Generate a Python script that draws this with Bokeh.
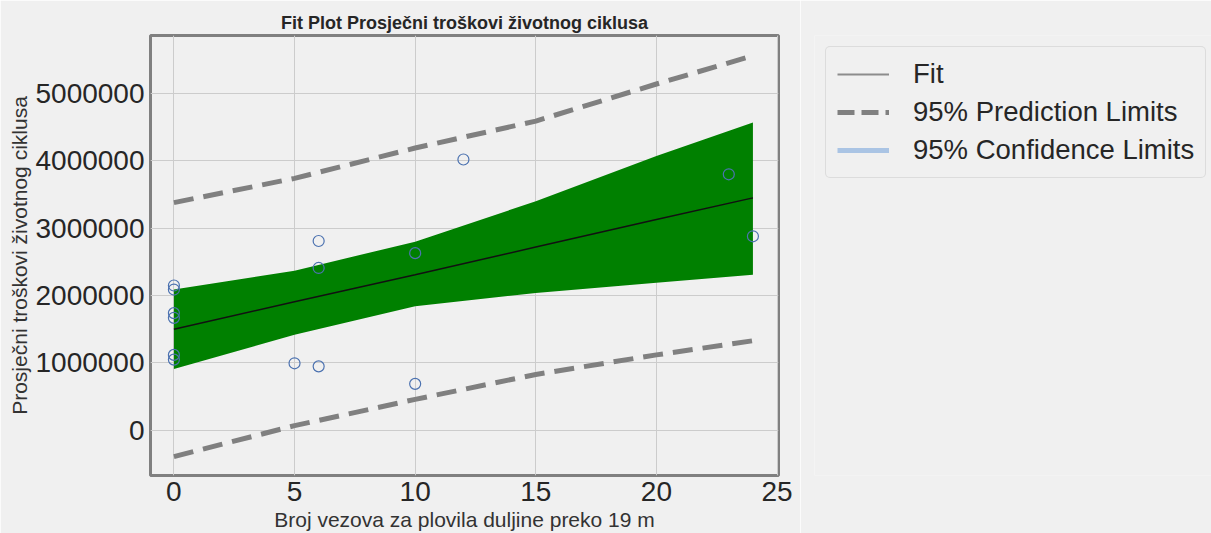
from bokeh.plotting import figure
from bokeh.layouts import row
from bokeh.models import (Range1d, FixedTicker, Legend, LegendItem,
                          NumeralTickFormatter, ColumnDataSource)
from bokeh.embed import file_html
from bokeh.resources import INLINE

# observations
x_obs = [0, 0, 0, 0, 0, 0, 5, 6, 6, 6, 10, 10, 12, 23, 24]
y_obs = [2150000, 2090000, 1740000, 1670000, 1120000, 1050000, 995000,
         2810000, 2410000, 950000, 2630000, 690000, 4020000, 3800000, 2880000]

# fit and limits (read at these x positions)
x_fit = [0, 5, 10, 15, 20, 24]
y_fit = [1500000, 1910000, 2310000, 2720000, 3130000, 3450000]
ci_upper = [2090000, 2370000, 2800000, 3400000, 4070000, 4570000]
ci_lower = [910000, 1420000, 1840000, 2040000, 2190000, 2310000]
pi_upper = [3380000, 3740000, 4190000, 4590000, 5140000, 5560000]
pi_lower = [-390000, 70000, 460000, 830000, 1120000, 1330000]

x_ticks = [0, 5, 10, 15, 20, 25]
y_ticks = [0, 1000000, 2000000, 3000000, 4000000, 5000000]
legend_labels = ["Fit", "95% Prediction Limits", "95% Confidence Limits"]

FONT = "Liberation Sans"
BG = "#f0f0f0"

p = figure(width=800, height=533, output_backend="svg", toolbar_location=None,
           x_range=Range1d(-0.97, 25.06), y_range=Range1d(-670000, 5860000),
           min_border_left=150, min_border_right=22, min_border_top=35,
           min_border_bottom=0,
           title="Fit Plot Prosječni troškovi životnog ciklusa")

p.background_fill_color = BG
p.border_fill_color = BG
p.outline_line_color = "#808080"
p.outline_line_width = 3

p.title.align = "center"
p.title.text_font = FONT
p.title.text_font_size = "18px"
p.title.text_font_style = "bold"
p.title.text_color = "#262626"
p.title.standoff = 6

p.xgrid.grid_line_color = "#cccccc"
p.ygrid.grid_line_color = "#cccccc"

for ax in (p.xaxis[0], p.yaxis[0]):
    ax.axis_line_color = None
    ax.major_tick_line_color = None
    ax.minor_tick_line_color = None
    ax.major_tick_out = 0
    ax.major_tick_in = 0
    ax.minor_tick_out = 0
    ax.minor_tick_in = 0
    ax.major_label_text_font = FONT
    ax.major_label_text_font_size = "28px"
    ax.major_label_text_color = "#262626"
    ax.axis_label_text_font = FONT
    ax.axis_label_text_font_size = "21px"
    ax.axis_label_text_font_style = "normal"
    ax.axis_label_text_color = "#333333"

p.xaxis.ticker = FixedTicker(ticks=x_ticks)
p.yaxis.ticker = FixedTicker(ticks=y_ticks)
p.yaxis.formatter = NumeralTickFormatter(format="0")
p.xaxis.axis_label = "Broj vezova za plovila duljine preko 19 m"
p.yaxis.axis_label = "Prosječni troškovi životnog ciklusa"
p.xaxis.major_label_standoff = 6
p.xaxis.axis_label_standoff = 4
p.yaxis.major_label_standoff = 6
p.yaxis.axis_label_standoff = 1

src = ColumnDataSource(dict(x=x_fit, fit=y_fit, cil=ci_lower, ciu=ci_upper,
                            pil=pi_lower, piu=pi_upper))

p.varea(x="x", y1="cil", y2="ciu", source=src, fill_color="#008000")
p.line(x="x", y="fit", source=src, line_color="#111111", line_width=1.5)
p.line(x="x", y="piu", source=src, line_color="#808080", line_width=5,
       line_dash="20 10")
p.line(x="x", y="pil", source=src, line_color="#808080", line_width=5,
       line_dash="20 10")
p.scatter(x=x_obs, y=y_obs, marker="circle", size=11, fill_color=None,
          line_color="#4c72b0", line_width=1.2)

# legend panel: a second figure whose ranges keep the sample lines out of view
lg = figure(width=411, height=533, output_backend="svg", toolbar_location=None,
            x_range=Range1d(1000, 1001), y_range=Range1d(1000, 1001),
            min_border_left=14, min_border_top=35, min_border_right=0,
            min_border_bottom=0)
lg.background_fill_color = BG
lg.border_fill_color = BG
lg.outline_line_color = None
lg.axis.visible = False
lg.grid.visible = False

leg_fit = lg.line(x="x", y="fit", source=src, line_color="#8c8c8c", line_width=2)
leg_pi = lg.line(x="x", y="piu", source=src, line_color="#808080", line_width=5,
                 line_dash="17 7")
leg_ci = lg.line(x="x", y="ciu", source=src, line_color="#aac4e4", line_width=5)

legend = Legend(items=[LegendItem(label=legend_labels[0], renderers=[leg_fit]),
                       LegendItem(label=legend_labels[1], renderers=[leg_pi]),
                       LegendItem(label=legend_labels[2], renderers=[leg_ci])],
                location="top_left")
legend.label_text_font = FONT
legend.label_text_font_size = "27.5px"
legend.label_text_color = "#262626"
legend.glyph_width = 52
legend.glyph_height = 30
legend.label_height = 30
legend.label_standoff = 24
legend.spacing = 6
legend.padding = 11
legend.margin = 11
legend.border_line_color = "#c8c8c8"
legend.border_line_width = 1
legend.border_radius = 5
legend.background_fill_color = BG
legend.background_fill_alpha = 1
lg.add_layout(legend, "center")

layout = row(p, lg, spacing=0)
open("out.html", "w").write(file_html(layout, INLINE))
